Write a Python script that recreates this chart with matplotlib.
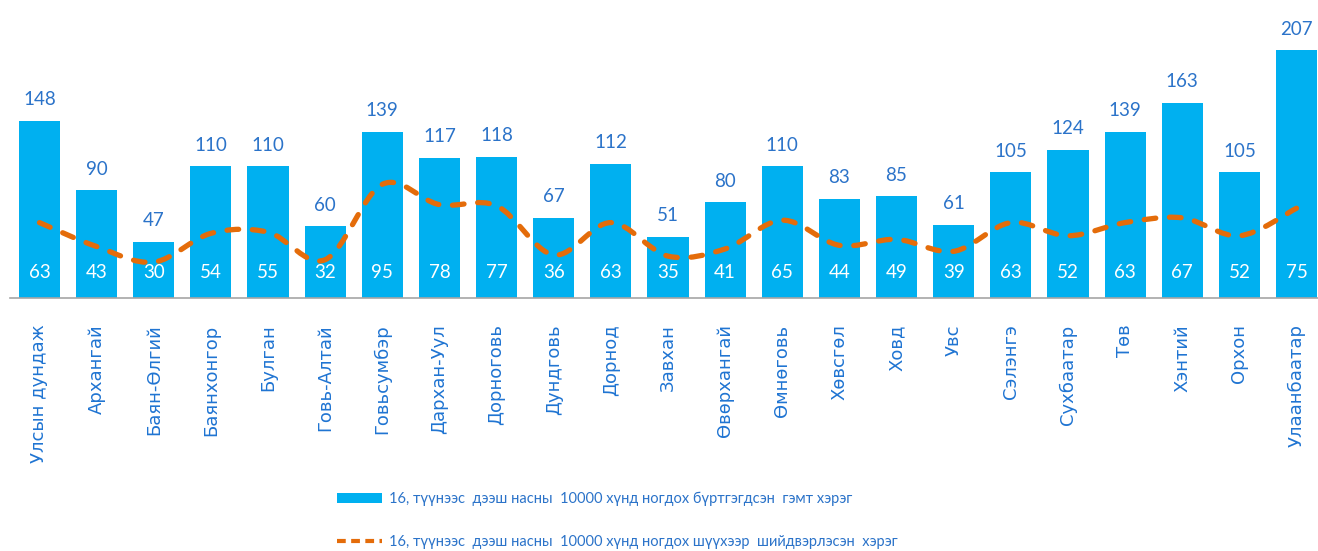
import matplotlib
matplotlib.use("Agg")
import matplotlib.pyplot as plt
from matplotlib.path import Path
from matplotlib.patches import PathPatch, Patch
from matplotlib.lines import Line2D
import numpy as np

categories = ["Улсын дундаж", "Архангай", "Баян-Өлгий", "Баянхонгор", "Булган",
              "Говь-Алтай", "Говьсумбэр", "Дархан-Уул", "Дорноговь", "Дундговь",
              "Дорнод", "Завхан", "Өвөрхангай", "Өмнөговь", "Хөвсгөл", "Ховд",
              "Увс", "Сэлэнгэ", "Сухбаатар", "Төв", "Хэнтий", "Орхон", "Улаанбаатар"]
registered = [148, 90, 47, 110, 110, 60, 139, 117, 118, 67, 112, 51, 80, 110, 83,
              85, 61, 105, 124, 139, 163, 105, 207]
resolved = [63, 43, 30, 54, 55, 32, 95, 78, 77, 36, 63, 35, 41, 65, 44, 49, 39,
            63, 52, 63, 67, 52, 75]
legend_labels = ["16, түүнээс  дээш насны  10000 хүнд ногдох бүртгэгдсэн  гэмт хэрэг",
                 "16, түүнээс  дээш насны  10000 хүнд ногдох шүүхээр  шийдвэрлэсэн  хэрэг"]

BAR_C = "#00B0F0"
LINE_C = "#E46C0A"
TXT_C = "#2B73C9"
TICK_C = "#1F74D2"
NUM_FONT = ["Lato", "DejaVu Sans"]

W, H = 1318, 551
fig = plt.figure(figsize=(W / 100, H / 100), dpi=100)
ax = fig.add_axes([10 / W, (H - 298) / H, 1 - 10 / W, 298 / H])

x = np.arange(len(categories))
ax.bar(x, registered, width=0.72, color=BAR_C, zorder=2)

# smoothed line (Excel-style Bezier through the data points)
pts = np.column_stack([x, resolved]).astype(float)
n = len(pts)
verts = [tuple(pts[0])]
codes = [Path.MOVETO]
for i in range(n - 1):
    p0 = pts[i - 1] if i > 0 else pts[i]
    p1 = pts[i]
    p2 = pts[i + 1]
    p3 = pts[i + 2] if i + 2 < n else pts[i + 1]
    c1 = p1 + (p2 - p0) / 6.0
    c2 = p2 - (p3 - p1) / 6.0
    verts += [tuple(c1), tuple(c2), tuple(p2)]
    codes += [Path.CURVE4] * 3
patch = PathPatch(Path(verts, codes), fill=False, edgecolor=LINE_C, lw=3.8,
                  linestyle=(0, (2.2, 2.6)), capstyle="round", zorder=3)
ax.add_patch(patch)

for xi, v in zip(x, registered):
    ax.annotate(str(v), (xi, v), xytext=(0, 9), textcoords="offset points",
                ha="center", va="bottom", color=TXT_C, fontsize=13.5,
                family=NUM_FONT, zorder=4)
for xi, v in zip(x, resolved):
    ax.text(xi, 21, str(v), ha="center", va="center", color="white",
            fontsize=13.5, family=NUM_FONT, zorder=4)

ax.set_xlim(-0.516, 22.376)
ax.set_ylim(0, 249)
ax.set_yticks([])
for s in ["top", "right", "left"]:
    ax.spines[s].set_visible(False)
ax.spines["bottom"].set_color("#A6A6A6")
ax.spines["bottom"].set_linewidth(1.2)
ax.set_xticks(x)
ax.set_xticklabels(categories, rotation=90, color=TICK_C, fontsize=13,
                   family=["DejaVu Sans"])
ax.tick_params(axis="x", length=0, pad=19)

handles = [Patch(facecolor=BAR_C, edgecolor="none"),
           Line2D([0], [0], color=LINE_C, lw=3.0, linestyle=(0, (2.1, 1.3)))]
leg = fig.legend(handles, legend_labels, loc="upper left",
                 bbox_to_anchor=(331 / W, 1 - 486 / H), frameon=False,
                 handlelength=3.1, handleheight=0.75,
                 labelspacing=2.0, handletextpad=0.45, borderaxespad=0,
                 prop={"family": NUM_FONT, "size": 10.5})
for t in leg.get_texts():
    t.set_color(TXT_C)

fig.savefig("out.png", dpi=100)
